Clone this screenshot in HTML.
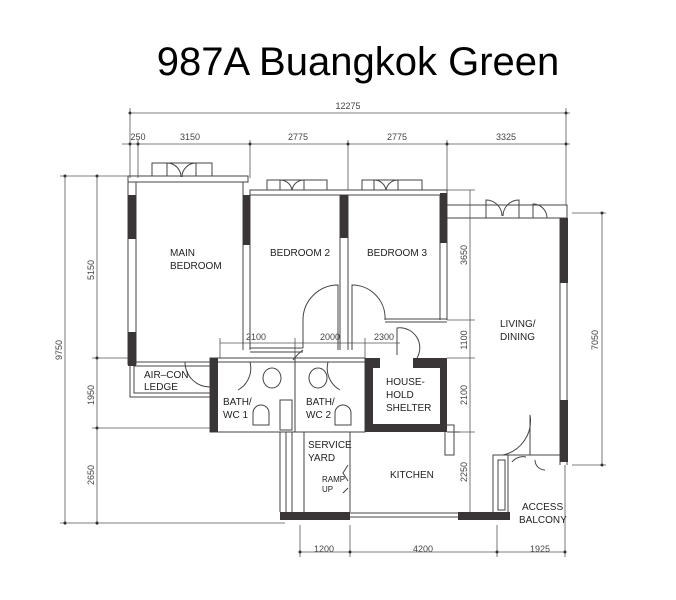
<!DOCTYPE html>
<html><head><meta charset="utf-8"><style>
html,body{margin:0;padding:0;background:#fff;width:676px;height:600px;overflow:hidden}
svg{display:block}
text{font-family:"Liberation Sans",sans-serif;fill:#222}
.d{font-size:9px;fill:#444}
.r{font-size:10px;fill:#222}
</style></head><body>
<svg width="676" height="600" viewBox="0 0 676 600">
<text x="358" y="75" text-anchor="middle" style="font-size:40px;fill:#000">987A Buangkok Green</text>
<g stroke="#555" stroke-width="0.8" fill="none">
<line x1="130" y1="113" x2="570" y2="113"/>
<line x1="122" y1="144" x2="570" y2="144"/>
<line x1="130" y1="108" x2="130" y2="178"/>
<line x1="138" y1="140" x2="138" y2="178"/>
<line x1="250" y1="140" x2="250" y2="178"/>
<line x1="348" y1="140" x2="348" y2="190"/>
<line x1="447" y1="140" x2="447" y2="190"/>
<line x1="566" y1="108" x2="566" y2="205"/>
<line x1="65" y1="176" x2="65" y2="525"/>
<line x1="97" y1="176" x2="97" y2="525"/>
<line x1="60" y1="176" x2="128" y2="176"/>
<line x1="92" y1="358" x2="130" y2="358"/>
<line x1="92" y1="428" x2="210" y2="428"/>
<line x1="60" y1="523" x2="285" y2="523"/>
<line x1="220" y1="343" x2="400" y2="343"/>
<line x1="220" y1="338" x2="220" y2="358"/>
<line x1="295" y1="338" x2="295" y2="358"/>
<line x1="365" y1="338" x2="365" y2="358"/>
<line x1="470" y1="190" x2="470" y2="513"/>
<line x1="447" y1="190" x2="475" y2="190"/>
<line x1="447" y1="320" x2="475" y2="320"/>
<line x1="447" y1="358" x2="475" y2="358"/>
<line x1="447" y1="432" x2="475" y2="432"/>
<line x1="602" y1="213" x2="602" y2="465"/>
<line x1="572" y1="213" x2="606" y2="213"/>
<line x1="572" y1="465" x2="606" y2="465"/>
<line x1="300" y1="552" x2="565" y2="552"/>
<line x1="300" y1="525" x2="300" y2="557"/>
<line x1="350" y1="525" x2="350" y2="557"/>
<line x1="497" y1="525" x2="497" y2="557"/>
<line x1="565" y1="465" x2="565" y2="557"/>
</g>
<g fill="#333">
<circle cx="130" cy="113" r="1.5"/><circle cx="566" cy="113" r="1.5"/>
<circle cx="130" cy="144" r="1.5"/><circle cx="138" cy="144" r="1.5"/><circle cx="250" cy="144" r="1.5"/><circle cx="348" cy="144" r="1.5"/><circle cx="447" cy="144" r="1.5"/><circle cx="566" cy="144" r="1.5"/>
<circle cx="65" cy="176" r="1.5"/><circle cx="65" cy="523" r="1.5"/><circle cx="97" cy="176" r="1.5"/><circle cx="97" cy="358" r="1.5"/><circle cx="97" cy="428" r="1.5"/><circle cx="97" cy="523" r="1.5"/>
<circle cx="602" cy="213" r="1.5"/><circle cx="602" cy="465" r="1.5"/>
<circle cx="300" cy="552" r="1.5"/><circle cx="350" cy="552" r="1.5"/><circle cx="497" cy="552" r="1.5"/><circle cx="565" cy="552" r="1.5"/>
</g>
<text class="d" x="348" y="109" text-anchor="middle">12275</text>
<text class="d" x="138" y="140" text-anchor="middle">250</text>
<text class="d" x="190" y="140" text-anchor="middle">3150</text>
<text class="d" x="298" y="140" text-anchor="middle">2775</text>
<text class="d" x="397" y="140" text-anchor="middle">2775</text>
<text class="d" x="506" y="140" text-anchor="middle">3325</text>
<text class="d" x="256" y="340" text-anchor="middle">2100</text>
<text class="d" x="330" y="340" text-anchor="middle">2000</text>
<text class="d" x="384" y="340" text-anchor="middle">2300</text>
<text class="d" x="324" y="552" text-anchor="middle">1200</text>
<text class="d" x="423" y="552" text-anchor="middle">4200</text>
<text class="d" x="540" y="552" text-anchor="middle">1925</text>
<text class="d" transform="translate(62,350) rotate(-90)" text-anchor="middle">9750</text>
<text class="d" transform="translate(94,270) rotate(-90)" text-anchor="middle">5150</text>
<text class="d" transform="translate(94,395) rotate(-90)" text-anchor="middle">1950</text>
<text class="d" transform="translate(94,475) rotate(-90)" text-anchor="middle">2650</text>
<text class="d" transform="translate(467,255) rotate(-90)" text-anchor="middle">3650</text>
<text class="d" transform="translate(467,340) rotate(-90)" text-anchor="middle">1100</text>
<text class="d" transform="translate(467,395) rotate(-90)" text-anchor="middle">2100</text>
<text class="d" transform="translate(467,472) rotate(-90)" text-anchor="middle">2250</text>
<text class="d" transform="translate(598,340) rotate(-90)" text-anchor="middle">7050</text>

<g stroke="#444" stroke-width="1" fill="none">
<rect x="128" y="176" width="120" height="6"/>
<line x1="128" y1="176" x2="128" y2="365"/><line x1="136" y1="182" x2="136" y2="365"/>
<line x1="243" y1="182" x2="243" y2="350"/><line x1="250" y1="190" x2="250" y2="350"/>
<rect x="250" y="190" width="197" height="5"/>
<line x1="340" y1="195" x2="340" y2="350"/><line x1="348" y1="195" x2="348" y2="350"/>
<line x1="440" y1="195" x2="440" y2="320"/><line x1="447" y1="195" x2="447" y2="320"/>
<line x1="250" y1="348" x2="303" y2="348"/><line x1="250" y1="352" x2="303" y2="352"/>
<line x1="385" y1="319" x2="447" y2="319"/><line x1="385" y1="322" x2="447" y2="322"/>
<rect x="152" y="163" width="60" height="13"/>
<rect x="267" y="180" width="60" height="10"/>
<rect x="362" y="180" width="60" height="10"/>
<rect x="447" y="205" width="120" height="13"/>
<path d="M167 176 v-13 a14 14 0 0 1 14 14 M196 176 v-13 a14 14 0 0 0 -14 14"/>
<path d="M280 190 v-10 a12 12 0 0 1 12 10 M304 190 v-10 a12 12 0 0 0 -12 10"/>
<path d="M374 190 v-10 a12 12 0 0 1 12 10 M398 190 v-10 a12 12 0 0 0 -12 10"/>
<path d="M486 218 v-18 a16 16 0 0 1 16 16 M519 218 v-18 a16 16 0 0 0 -16 16 M533 218 v-14 a14 14 0 0 1 14 14"/>
<!-- doors -->
<path d="M338 350 v-65 a35 35 0 0 0 -35 35 v28"/>
<path d="M352 350 v-65 a33 33 0 0 1 33 35"/>
<path d="M303 350 a50 50 0 0 0 -10 10"/>
<path d="M397 358 v-30 a20 20 0 0 1 20 30"/>
<path d="M530 455 v-40 a35 35 0 0 1 -27 40"/>
<line x1="447" y1="218" x2="447" y2="320"/>
<line x1="560" y1="218" x2="560" y2="465"/><line x1="567" y1="205" x2="567" y2="465"/>
<rect x="130" y="362" width="80" height="35"/>
<rect x="134" y="366" width="76" height="27"/>
<path d="M185 362 a25 25 0 0 0 25 25"/>
<rect x="210" y="358" width="155" height="74"/>
<line x1="295" y1="358" x2="295" y2="432"/>
<line x1="218" y1="362" x2="365" y2="362"/>
<path d="M250 362 a25 25 0 0 1 -12 28 M328 362 a25 25 0 0 0 12 28"/>
<ellipse cx="272" cy="378" rx="9" ry="10"/><ellipse cx="318" cy="378" rx="9" ry="10"/>
<path d="M253 425 v-12 a8 8 0 0 1 16 0 v12z"/><path d="M335 425 v-12 a8 8 0 0 1 16 0 v12z"/>
<rect x="280" y="400" width="12" height="30"/>
<line x1="280" y1="432" x2="280" y2="512"/><line x1="286" y1="432" x2="286" y2="512"/><line x1="292" y1="432" x2="292" y2="512"/>
<line x1="304" y1="432" x2="304" y2="512"/>
<line x1="350" y1="432" x2="350" y2="512"/>
<line x1="350" y1="513" x2="458" y2="513"/><line x1="350" y1="517" x2="458" y2="517"/>
<line x1="447" y1="432" x2="460" y2="432"/>
<rect x="445" y="425" width="9" height="30"/>
<path d="M348 465 l-5 8 l5 8 M348 488 l-5 5"/>
<rect x="493" y="455" width="15" height="60"/>
<rect x="498" y="460" width="7" height="50"/>
<line x1="508" y1="455" x2="560" y2="455"/>
<path d="M512 462 a14 14 0 0 1 14 -5 M545 470 a10 10 0 0 1 -10 -10"/>
</g>
<g fill="#3a3536">
<rect x="128" y="195" width="8" height="44"/>
<rect x="128" y="332" width="8" height="34"/>
<rect x="243" y="195" width="7" height="50"/>
<rect x="340" y="195" width="8" height="43"/>
<rect x="440" y="193" width="7" height="50"/>
<rect x="560" y="218" width="8" height="65"/>
<rect x="560" y="400" width="8" height="62"/>
<rect x="210" y="358" width="8" height="74"/>
<rect x="280" y="512" width="70" height="8"/>
<rect x="458" y="512" width="52" height="8"/>
<path fill-rule="evenodd" d="M365 358 H447 V432 H365Z M373 368 H440 V424 H373Z"/>
</g>
<rect x="380" y="355" width="33" height="14" fill="#fff"/>
<g class="r">
<text class="r" x="170" y="256">MAIN</text><text class="r" x="170" y="269">BEDROOM</text>
<text class="r" x="270" y="256">BEDROOM 2</text>
<text class="r" x="367" y="256">BEDROOM 3</text>
<text class="r" x="500" y="327">LIVING/</text><text class="r" x="500" y="340">DINING</text>
<text class="r" x="144" y="378">AIR–CON</text><text class="r" x="144" y="390">LEDGE</text>
<text class="r" x="223" y="405">BATH/</text><text class="r" x="223" y="418">WC 1</text>
<text class="r" x="306" y="405">BATH/</text><text class="r" x="306" y="418">WC 2</text>
<text class="r" x="386" y="385">HOUSE-</text><text class="r" x="386" y="398">HOLD</text><text class="r" x="386" y="411">SHELTER</text>
<text class="r" x="308" y="448">SERVICE</text><text class="r" x="308" y="461">YARD</text>
<text class="r" style="font-size:8px" x="322" y="482">RAMP</text><text class="r" style="font-size:8px" x="322" y="492">UP</text>
<text class="r" x="390" y="478">KITCHEN</text>
<text class="r" x="522" y="510">ACCESS</text><text class="r" x="519" y="523">BALCONY</text>
</g>
</svg>
</body></html>
